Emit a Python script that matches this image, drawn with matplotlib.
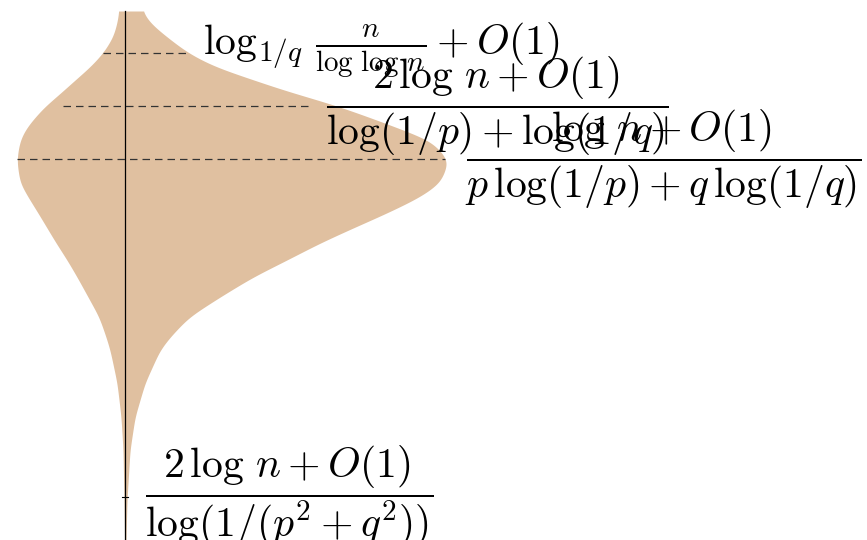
import numpy as np
import matplotlib.pyplot as plt

plt.rcParams['mathtext.fontset'] = 'cm'

# profile of the depth distribution: depth level and left / right edge
depth = [11, 23, 37, 53, 67, 80, 90, 103, 106, 123, 130, 140, 157, 163, 183,
         197, 213, 228, 243, 260, 277, 297, 317, 337, 350, 383, 417, 450, 500, 540]
left_edge = [119, 117, 113, 103, 90, 75, 64, 49, 45, 30, 25, 20, 17, 17, 20,
             28, 38, 47, 56, 67, 77, 88, 99, 106, 110, 117, 121, 123, 124, 124.5]
right_edge = [142, 150, 167, 188, 215, 254, 283, 328, 338, 385, 403, 430, 446, 448, 440,
              420, 387, 353, 320, 287, 253, 220, 189, 170, 160, 145, 135, 130, 127, 126]

axis_x = 125
axis_top = 11

# marked depths and the extent of their dashed guide lines
levels = [53, 106, 159]
level_from = [103, 63, 17]
level_to = [187, 313, 445]
tick_level = 497

labels = [
    r'$\log_{1/q}\,\frac{n}{\log\,\log\,n} + O(1)$',
    r'$\dfrac{2\,\log\,n + O(1)}{\log(1/p) + \log(1/q)}$',
    r'$\dfrac{\log\,n + O(1)}{p\,\log(1/p) + q\,\log(1/q)}$',
    r'$\dfrac{2\,\log\,n + O(1)}{\log(1/(p^2+q^2))}$',
]
label_x = [203, 326, 465, 145]
label_y = [levels[0] - 2, levels[1], levels[2], tick_level]


def smooth(v, k=6):
    # gaussian smoothing of an edge sampled on a 1px grid
    t = np.arange(-3 * k, 3 * k + 1)
    w = np.exp(-0.5 * (t / k) ** 2)
    w /= w.sum()
    p = np.pad(v, 3 * k, mode='edge')
    return np.convolve(p, w, mode='valid')


fig = plt.figure(figsize=(8.67, 5.4), dpi=100)
ax = fig.add_axes([0, 0, 1, 1])
ax.set_xlim(0, 867)
ax.set_ylim(540, 0)
ax.axis('off')

yy = np.arange(depth[0], depth[-1] + 1, 1.0)
xl = smooth(np.interp(yy, depth, left_edge))
xr = smooth(np.interp(yy, depth, right_edge))
ax.fill_betweenx(yy, xl, xr, color='#e0c0a0', lw=0)

ax.plot([axis_x, axis_x], [axis_top, 540], color='black', lw=0.9)
for lv, a, b in zip(levels, level_from, level_to):
    ax.plot([a, b], [lv, lv], color='#333333', lw=0.9, dashes=(6, 4))
ax.plot([axis_x - 3, axis_x + 3], [tick_level, tick_level], color='black', lw=0.8)

for s, x, y in zip(labels, label_x, label_y):
    ax.text(x, y, s, fontsize=30, ha='left', va='center')

fig.savefig('out.png', dpi=100)
